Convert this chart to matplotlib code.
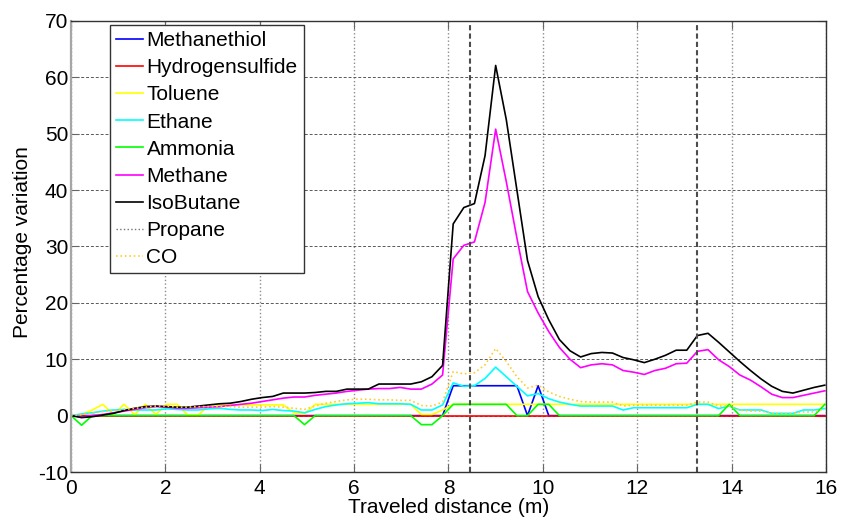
import numpy as np
import matplotlib
matplotlib.use("Agg")
import matplotlib.pyplot as plt

plt.rcParams['font.family'] = ['Liberation Sans', 'DejaVu Sans']
plt.rcParams['axes.unicode_minus'] = False

# sample positions along the path (m)
distance = np.round(np.arange(72) * 0.225, 3)

methanethiol = [0, 0, 0, 0, 0, 0, 0, 0, 0, 0, 0, 0, 0, 0, 0, 0, 0, 0,
                0, 0, 0, 0, 0, 0, 0, 0, 0, 0, 0, 0, 0, 0, 0, 0, 0, 0,
                5.3, 5.3, 5.3, 5.3, 5.3, 5.3, 5.3, 0, 5.3, 0, 0, 0, 0, 0, 0, 0, 0, 0,
                0, 0, 0, 0, 0, 0, 0, 0, 0, 0, 0, 0, 0, 0, 0, 0, 0, 0]
hydrogensulfide = [0] * 72
toluene = [0, 0.2, 1.0, 2.0, 0.2, 2.0, 0.2, 2.0, 0.2, 2.0, 2.0, 0.1, 0.1, 1.9, 1.9, 1.9, 1.9, 1.9,
           1.9, 1.9, 1.9, 0.5, 0.3, 2.0, 2.0, 2.0, 2.0, 2.0, 2.0, 2.0, 2.0, 2.0, 2.0, 0.2, 0.2, 1.0,
           2.0, 2.0, 2.0, 2.0, 2.0, 2.0, 2.0, 2.0, 2.0, 2.0, 2.0, 2.0, 2.0, 2.0, 2.0, 2.0, 2.0, 2.0,
           2.0, 2.0, 2.0, 2.0, 2.0, 2.0, 2.0, 2.0, 2.0, 2.0, 2.0, 2.0, 2.0, 2.0, 2.0, 2.0, 2.0, 2.0]
ethane = [0, 0.3, 0.5, 0.8, 1.0, 1.1, 1.0, 1.0, 1.0, 1.2, 1.1, 1.0, 1.0, 1.2, 1.3, 1.1, 1.0, 1.0,
          0.9, 1.1, 0.9, 0.8, 0.5, 1.1, 1.6, 1.9, 2.1, 2.2, 2.3, 2.1, 2.1, 2.1, 2.0, 1.0, 1.0, 1.9,
          5.8, 5.2, 5.3, 6.6, 8.6, 6.9, 5.2, 3.5, 3.9, 3.0, 2.4, 2.0, 1.7, 1.7, 1.7, 1.7, 1.0, 1.4,
          1.4, 1.4, 1.4, 1.4, 1.4, 2.0, 2.0, 1.25, 1.7, 1.0, 1.0, 1.0, 0.4, 0.4, 0.4, 1.0, 1.0, 1.25]
ammonia = [0, -1.7, 0, 0, 0, 0, 0, 0, 0, 0, 0, 0, 0, 0, 0, 0, 0, 0,
           0, 0, 0, 0, -1.6, 0, 0, 0, 0, 0, 0, 0, 0, 0, 0, -1.6, -1.6, 0,
           2.0, 2.0, 2.0, 2.0, 2.0, 2.0, 0, 0, 2.0, 2.0, 0, 0, 0, 0, 0, 0, 0, 0,
           0, 0, 0, 0, 0, 0, 0, 0, 2.0, 0, 0, 0, 0, 0, 0, 0, 0, 2.0]
methane = [0, -0.2, 0.0, 0.2, 0.5, 0.8, 1.1, 1.4, 1.6, 1.5, 1.3, 1.3, 1.4, 1.5, 1.6, 1.8, 2.0, 2.2,
           2.5, 2.8, 3.1, 3.3, 3.3, 3.6, 3.8, 4.0, 4.3, 4.5, 4.7, 4.8, 4.8, 5.0, 4.7, 4.7, 5.6, 7.2,
           27.8, 30.2, 30.8, 37.8, 50.8, 41.5, 31.5, 22.0, 18.2, 14.9, 12.1, 10.0, 8.5, 9.0, 9.2, 9.0, 8.0, 7.7,
           7.3, 8.0, 8.4, 9.2, 9.3, 11.4, 11.7, 9.9, 8.7, 7.2, 6.3, 5.1, 3.8, 3.2, 3.2, 3.6, 4.0, 4.4]
isobutane = [0, -0.35, -0.2, 0.1, 0.4, 0.9, 1.3, 1.6, 1.7, 1.6, 1.5, 1.5, 1.7, 1.9, 2.1, 2.2, 2.5, 2.9,
             3.2, 3.4, 4.0, 4.0, 4.0, 4.1, 4.3, 4.3, 4.7, 4.7, 4.7, 5.6, 5.6, 5.6, 5.6, 6.0, 6.9, 8.9,
             34.0, 36.9, 37.6, 46.1, 62.1, 52.5, 40.0, 27.5, 21.1, 17.0, 13.5, 11.5, 10.4, 11.0, 11.2, 11.1, 10.3, 9.9,
             9.4, 10.0, 10.7, 11.6, 11.6, 14.2, 14.6, 13.0, 11.3, 9.6, 8.0, 6.5, 5.2, 4.3, 4.0, 4.5, 5.0, 5.4]
# propane only shows up as two near-vertical traces
propane_spikes = [8.45, 13.26]
co = [0, 0.2, 0.4, 0.7, 0.9, 1.1, 1.3, 1.5, 1.7, 1.7, 1.5, 1.5, 1.6, 1.6, 1.6, 1.6, 1.5, 1.5,
      1.5, 1.6, 1.5, 1.3, 1.1, 1.7, 2.2, 2.5, 2.8, 2.9, 2.9, 2.8, 2.8, 2.7, 2.7, 1.8, 1.7, 2.4,
      7.8, 7.4, 7.6, 9.0, 11.9, 9.6, 6.9, 4.9, 5.4, 4.2, 3.4, 2.9, 2.5, 2.4, 2.4, 2.4, 1.7, 1.85,
      1.85, 1.85, 1.85, 1.85, 1.85, 2.4, 2.4, 1.7, 1.7, 0.95, 0.8, 0.8, 0.4, 0.4, 0.4, 0.65, 0.65, 1.2]

fig = plt.figure(figsize=(8.43, 5.2), dpi=100)
ax = fig.add_axes([0.0842, 0.0923, 0.8956, 0.8675])

lw = 1.2
ax.plot(distance, methanethiol, color='#0000FF', lw=lw, label='Methanethiol')
ax.plot(distance, hydrogensulfide, color='#FF0000', lw=lw, label='Hydrogensulfide')
ax.plot(distance, toluene, color='#FFFF00', lw=lw, label='Toluene')
ax.plot(distance, ethane, color='#00FFFF', lw=lw, label='Ethane')
ax.plot(distance, ammonia, color='#00FF00', lw=lw, label='Ammonia')
ax.plot(distance, methane, color='#FF00FF', lw=lw, label='Methane')
ax.plot(distance, isobutane, color='black', lw=lw, label='IsoButane')
for k, xs in enumerate(propane_spikes):
    ax.axvline(xs, color='0.3', ls=(0, (2.5, 1.5)), lw=1.5,
               label='Propane' if k == 0 else None)
ax.plot(distance, co, color='#FFCC33', lw=lw, ls=':', label='CO')

ax.set_xlim(0, 16)
ax.set_ylim(-10, 70)
ax.set_xticks(range(0, 17, 2))
ax.set_yticks(range(-10, 71, 10))
ax.xaxis.grid(True, color='0.55', ls=':', lw=1.0)
ax.yaxis.grid(True, color='0.35', ls=(0, (3, 2)), lw=0.7)
ax.tick_params(direction='in', length=6, top=True, right=True, labelsize=15,
               color='0.4')
ax.tick_params(axis='x', pad=5)
ax.tick_params(axis='y', pad=2)
for s in ax.spines.values():
    s.set_color('0.2')
    s.set_linewidth(1.0)
ax.spines['left'].set_color('0.65')
ax.spines['left'].set_linewidth(1.6)

ax.set_xlabel('Traveled distance (m)', fontsize=15, labelpad=0)
ax.set_ylabel('Percentage variation', fontsize=15)
ax.yaxis.set_label_coords(-0.052, 0.51)

leg = ax.legend(loc='upper left', bbox_to_anchor=(0.0517, 0.991), borderaxespad=0,
                fontsize=15, frameon=True, fancybox=False, framealpha=1,
                handlelength=1.3, handletextpad=0.15, labelspacing=0.39,
                borderpad=0.3)
leg.get_frame().set_edgecolor('0.2')
leg.get_frame().set_linewidth(1.0)
# legend sample for propane is a thin dotted grey line
leg.legend_handles[7].set_linestyle(':')
leg.legend_handles[7].set_color('0.45')
leg.legend_handles[7].set_linewidth(1.0)

fig.savefig('out.png', dpi=100)
